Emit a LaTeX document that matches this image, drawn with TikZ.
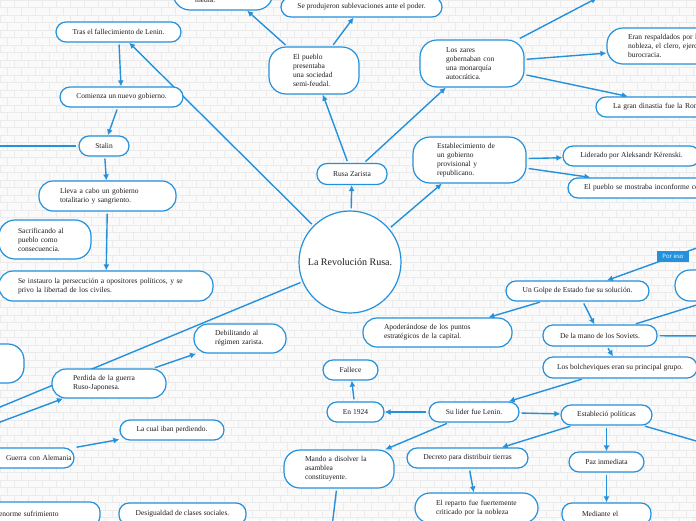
\documentclass[tikz,border=0pt]{standalone}
\usepackage{fontspec}
\setmainfont{Liberation Serif}
\newfontfamily\tagfont{Open Sans}
\usetikzlibrary{arrows.meta,calc}
\definecolor{mblue}{RGB}{36,145,220}
\pgfdeclarelayer{bg}
\pgfsetlayers{bg,main}
\begin{document}
\begin{tikzpicture}[x=1pt,y=-1pt,
 box/.style={draw=mblue, fill=white, line width=1.2pt, rounded corners=10pt, inner sep=0pt,
   font=\fontsize{7.5}{9}\selectfont, text=black!88, minimum height=20},
 lbox/.style={box, align=left},
 conn/.style={draw=mblue, line width=1.4pt, -{Latex[length=6pt,width=6pt]}, shorten <=2pt},
 plain/.style={draw=mblue, line width=1.4pt, shorten <=2pt},
 mortar/.style={draw=black!8, line width=0.5pt}]
\useasboundingbox (0,0) rectangle (696,520);
\begin{pgfonlayer}{bg}
\fill[white!98!black] (0,0) rectangle (696,520);
\foreach \r in {0,...,69}{
  \draw[mortar] (0,\r*7.5) -- (696,\r*7.5);
  \pgfmathsetmacro\off{mod(\r,2)*7}
  \draw[mortar] \foreach \c in {0,...,50}{ (\c*14+\off,\r*7.5) -- ++(0,7.5) };
}
\end{pgfonlayer}

% nodes
\node[circle, draw=mblue, fill=white, line width=1.2pt, minimum size=102, inner sep=0pt,
  font=\fontsize{10}{12}\selectfont, text=black!88] (circ) at (350,262) {La Revolución Rusa.};
\node[lbox, minimum width=100, minimum height=42, rounded corners=17pt, text width=56] (media) at (223,-11) {\mbox{}\\\mbox{}\\\mbox{}\\media.};
\node[box, minimum width=161] (seprod) at (361.5,7) {Se produjeron sublevaciones ante el poder.};
\node[box, minimum width=125] (tras) at (118.5,32) {Tras el fallecimiento de Lenin.};
\node[box, minimum width=123] (comienza) at (121.5,97) {Comienza un nuevo gobierno.};
\node[box, minimum width=50] (stalin) at (104,146) {Stalin};
\node[lbox, minimum width=137, minimum height=30, rounded corners=14pt, text width=95] (lleva) at (107.5,196) {\mbox{Lleva a cabo un gobierno}\\\mbox{totalitario y sangriento.}};
\node[lbox, minimum width=92, minimum height=39, rounded corners=16pt, text width=54] (sacrif) at (45,239.5) {\mbox{Sacrificando al}\\\mbox{pueblo como}\\\mbox{consecuencia.}};
\node[lbox, minimum width=214, minimum height=30, rounded corners=14pt, text width=176] (instauro) at (106,286) {\mbox{Se instauro la persecución a opositores políticos, y se}\\\mbox{privo la libertad de los civiles.}};
\node[box, minimum width=70, minimum height=21] (rusa) at (352,174) {Rusa Zarista};
\node[lbox, minimum width=90, minimum height=47, rounded corners=17pt, text width=42] (pueblo) at (314,70.5) {\mbox{El pueblo}\\\mbox{presentaba}\\\mbox{una sociedad}\\\mbox{semi-feudal.}};
\node[lbox, minimum width=104, minimum height=47, rounded corners=17pt, text width=52] (zares) at (472,63.5) {\mbox{Los zares}\\\mbox{gobernaban con}\\\mbox{una monarquía}\\\mbox{autocrática.}};
\node[lbox, minimum width=183, minimum height=36, rounded corners=16pt, text width=141] (eran) at (698.5,46) {\mbox{Eran respaldados por la}\\\mbox{nobleza, el clero, ejercito}\\\mbox{burocracia.}};
\node[lbox, minimum width=164, text width=130] (dinastia) at (678,107) {\mbox{La gran dinastia fue la Romanov}};
\node[lbox, minimum width=113, minimum height=46, rounded corners=17pt, text width=65] (estab) at (469.5,160) {\mbox{Establecimiento de}\\\mbox{un gobierno}\\\mbox{provisional y}\\\mbox{republicano.}};
\node[box, minimum width=137] (liderado) at (631.5,156) {Liderado por Aleksandr Kérenski.};
\node[lbox, minimum width=192, text width=160] (inconf) at (664,188) {\mbox{El pueblo se mostraba inconforme con}};
\node[box, minimum width=143] (golpe) at (577.5,291) {Un Golpe de Estado fue su solución.};
\node[lbox, minimum width=149, minimum height=29, rounded corners=14pt, text width=107] (apoder) at (437.5,332.5) {\mbox{Apoderándose de los puntos}\\\mbox{estratégicos de la capital.}};
\node[box, minimum width=85, minimum height=31, rounded corners=15pt] (rnode) at (717.5,285.5) {};
\node[box, minimum width=114, minimum height=21] (mano) at (600,335.5) {De la mano de los Soviets.};
\node[box, minimum width=154, minimum height=21] (bolch) at (620,367.5) {Los bolcheviques eran su principal grupo.};
\node[box, minimum width=90] (lider) at (474,412) {Su lider fue Lenin.};
\node[box, minimum width=57] (en1924) at (355.5,412) {En 1924};
\node[box, minimum width=55] (fallece) at (350.5,370) {Fallece};
\node[lbox, minimum width=110, minimum height=38, rounded corners=16pt, text width=68] (mando) at (339,469) {\mbox{Mando a disolver la}\\\mbox{asamblea}\\\mbox{constituyente.}};
\node[box, minimum width=91] (establ) at (606.5,415) {Estableció políticas};
\node[box, minimum width=121] (decreto) at (467.5,458) {Decreto para distribuir tierras};
\node[lbox, minimum width=123, minimum height=30, rounded corners=15pt, text width=81] (reparto) at (476.5,508) {\mbox{El reparto fue fuertemente}\\\mbox{criticado por la nobleza}};
\node[box, minimum width=75] (paz) at (606.5,462) {Paz inmediata};
\node[lbox, minimum width=89, minimum height=22, text width=49] (mediante) at (606.5,514) {\mbox{Mediante el}};
\node[lbox, minimum width=160, minimum height=24, text width=42] (enorme) at (20,514) {\mbox{enorme sufrimiento}};
\node[box, minimum width=127, minimum height=22] (desig) at (182.5,514) {Desigualdad de clases sociales.};
\node[box, minimum width=84, minimum height=39, rounded corners=16pt] (ltop) at (-18,363.5) {};
\node[lbox, minimum width=114, minimum height=29, rounded corners=14pt, text width=72] (perdida) at (109,383.5) {\mbox{Perdida de la guerra}\\\mbox{Ruso-Japonesa.}};
\node[lbox, minimum width=92, minimum height=29, rounded corners=14pt, text width=50] (debil) at (240,338.5) {\mbox{Debilitando al}\\\mbox{régimen zarista.}};
\node[lbox, minimum width=114, text width=22] (guerra) at (17,458) {\mbox{Guerra con Alemania}};
\node[box, minimum width=104] (lacual) at (172,430) {La cual iban perdiendo.};
\node[fill=mblue, text=white, font=\tagfont\fontsize{6}{7}\selectfont, minimum width=32, minimum height=11, inner sep=0pt] (poreso) at (673,256.5) {Por eso};

% free ends
\coordinate (zt) at (597,-2);
\coordinate (sl) at (-10,146);
\coordinate (pe) at (730,236);
\coordinate (mr) at (710,336);
\coordinate (md) at (331,535);
\coordinate (er) at (710,445);
\coordinate (cl) at (-30,419.5);
\coordinate (lo) at (-20,429.5);

\begin{pgfonlayer}{bg}
\draw[conn] (circ) -- (rusa);
\draw[conn] (circ) -- (tras);
\draw[conn] (circ) -- (estab);
\draw[plain] (circ) -- (cl);
\draw[conn] (rusa) -- (pueblo);
\draw[conn] (rusa) -- (zares);
\draw[conn] (pueblo) -- (media);
\draw[conn] (pueblo) -- (seprod);
\draw[conn] (zares) -- (zt);
\draw[conn] (zares) -- (eran);
\draw[conn] (zares) -- (dinastia);
\draw[conn] (estab) -- (liderado);
\draw[conn] (estab) -- (inconf);
\draw[conn] (tras) -- (comienza);
\draw[conn] (comienza) -- (stalin);
\draw[plain] (stalin) -- (sl);
\draw[conn] (stalin) -- (lleva);
\draw[conn] (lleva) -- (instauro);
\draw[conn] (pe) -- (golpe);
\draw[conn] (golpe) -- (apoder);
\draw[conn] (golpe) -- (mano);
\draw[plain] ($(mano.north)+(34,0)$) -- ($(rnode.south)+(-10,0)$);
\draw[plain] (mano) -- (mr);
\draw[conn] (mano) -- (bolch);
\draw[conn] (bolch) -- (lider);
\draw[conn] (lider) -- (en1924);
\draw[conn] (en1924) -- (fallece);
\draw[conn] (lider) -- (mando);
\draw[conn] (lider) -- (establ);
\draw[conn] (mando) -- (md);
\draw[conn] (establ) -- (decreto);
\draw[conn] (establ) -- (paz);
\draw[plain] (establ) -- (er);
\draw[conn] (decreto) -- (reparto);
\draw[conn] (paz) -- (mediante);
\draw[conn] (perdida) -- (debil);
\draw[conn] (lo) -- ($(perdida.south)+(-46,0)$);
\draw[conn] (guerra) -- (lacual);
\end{pgfonlayer}
\end{tikzpicture}
\end{document}
